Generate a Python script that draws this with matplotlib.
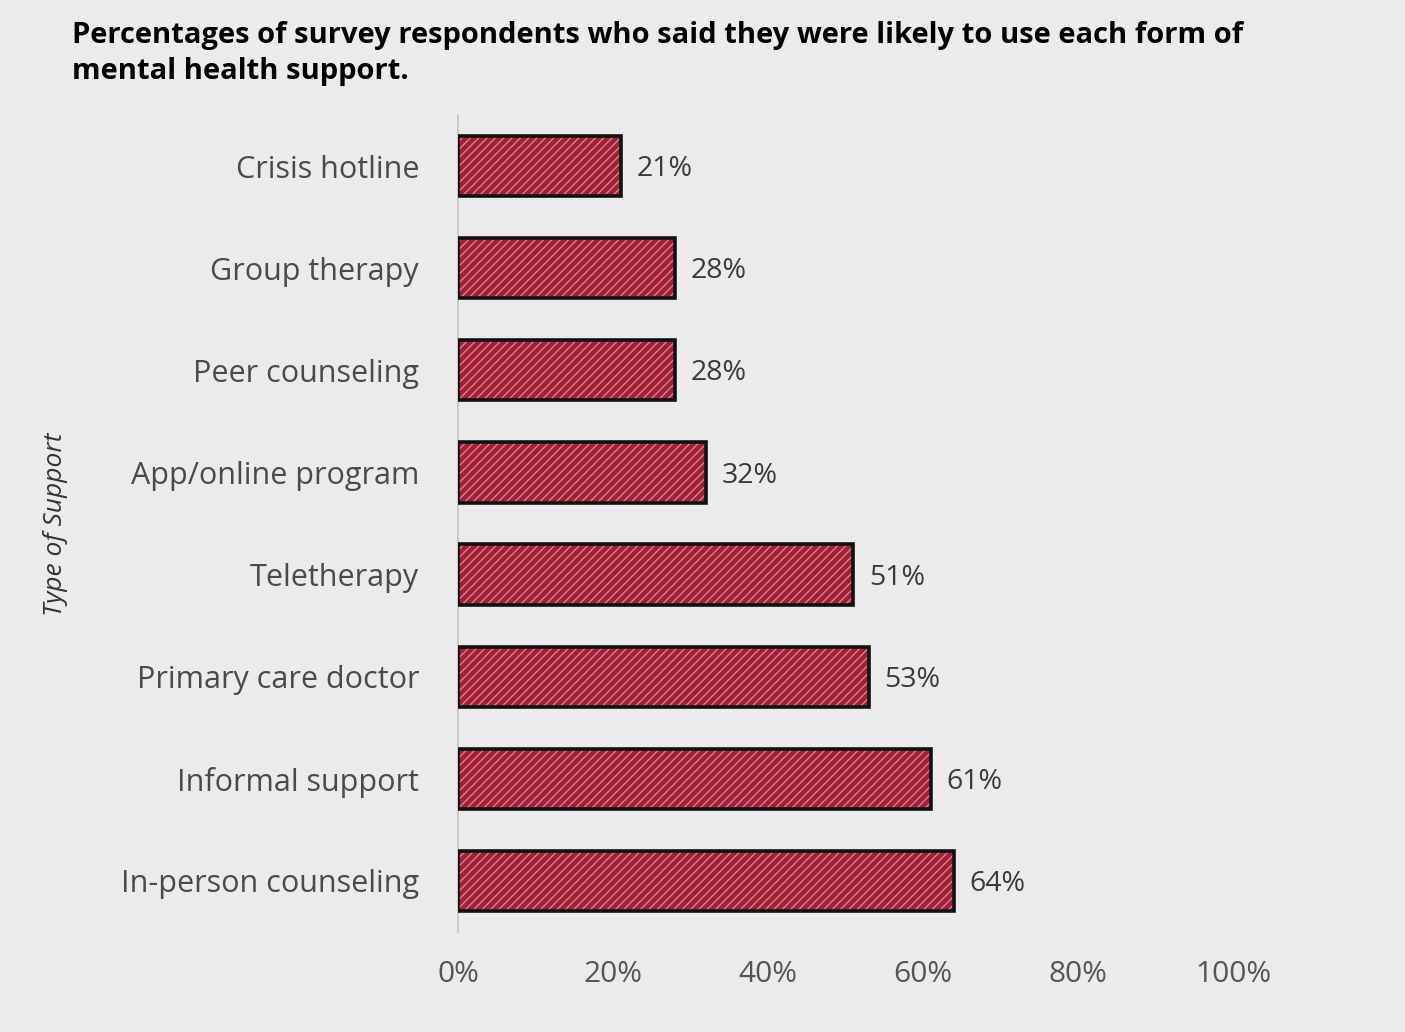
import matplotlib
matplotlib.use("Agg")
import matplotlib.pyplot as plt

categories = ["Crisis hotline", "Group therapy", "Peer counseling", "App/online program",
              "Teletherapy", "Primary care doctor", "Informal support", "In-person counseling"]
values = [21, 28, 28, 32, 51, 53, 61, 64]
xticks = [0, 20, 40, 60, 80, 100]
xtick_labels = ["0%", "20%", "40%", "60%", "80%", "100%"]

TITLE = ("Percentages of survey respondents who said they were likely to use each form of\n"
         "mental health support.")

plt.rcParams["font.family"] = ["Open Sans", "DejaVu Sans"]
plt.rcParams["hatch.linewidth"] = 0.9

BG = "#ebebeb"
RED = "#a51f37"

fig = plt.figure(figsize=(14.05, 10.32), dpi=100, facecolor=BG)
ax = fig.add_axes([458 / 1405, 1 - 932 / 1032, (1233 - 458) / 1405, 817 / 1032])
ax.set_facecolor("none")

ypos = list(range(len(categories)))
# fill + white scribble hatch
ax.barh(ypos, values, height=0.59, color=RED, edgecolor=(1, 1, 1, 0.5),
        linewidth=0, hatch="////", zorder=2)
# black outline
ax.barh(ypos, values, height=0.59, fill=False, edgecolor="#111111",
        linewidth=2.6, zorder=3)

for y, v in zip(ypos, values):
    ax.text(v + 2.0, y + 0.03, f"{v}%", va="center", ha="left", fontsize=20.5,
            color="#3a3a3a", zorder=4)

ax.set_ylim(len(categories) - 0.5, -0.5)
ax.set_xlim(0, 100)
ax.set_yticks(ypos)
ax.set_yticklabels(categories, fontsize=22, color="#4a4a4a")
ax.set_xticks(xticks)
ax.set_xticklabels(xtick_labels, fontsize=21.5, color="#555555")
ax.tick_params(axis="y", length=0, pad=28)
ax.tick_params(axis="x", length=0, pad=20)

for s in ("top", "right", "bottom"):
    ax.spines[s].set_visible(False)
ax.spines["left"].set_color("#c4c4c4")
ax.spines["left"].set_linewidth(1.2)

fig.text(55 / 1405, 1 - 524 / 1032, "Type of Support", rotation=90, ha="center",
         va="center", fontsize=19, style="italic", color="#333333")

fig.text(72 / 1405, 1 - 21 / 1032, TITLE, ha="left", va="top", fontsize=21,
         fontweight="bold", color="#000000", linespacing=1.3)

fig.savefig("out.png", dpi=100, facecolor=BG)
